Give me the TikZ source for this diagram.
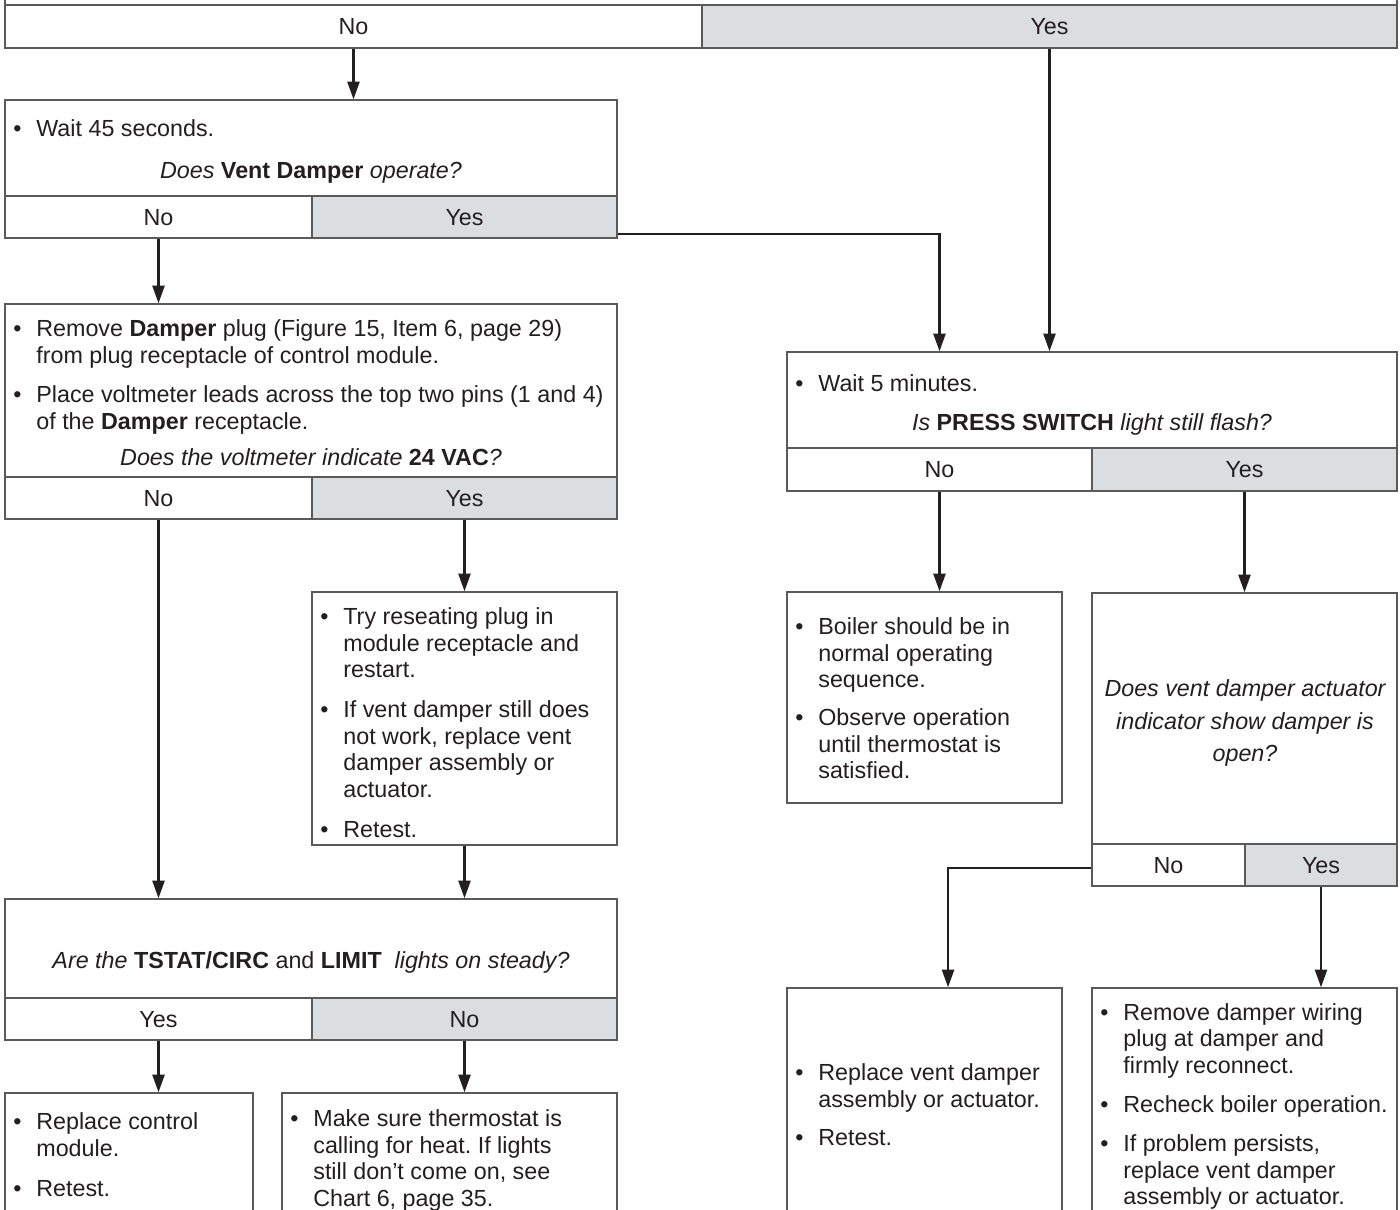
\documentclass[tikz,border=0pt]{standalone}
\usepackage{fontspec}
\setmainfont{Liberation Sans}
\usetikzlibrary{fit,arrows.meta,calc}
\definecolor{cellgray}{HTML}{DCDDDF}
\definecolor{edge}{HTML}{5A5A5A}
\definecolor{ink}{HTML}{231F20}
\newlength\bw \setlength\bw{13.1pt}
\newcommand\bl{\makebox[\bw][l]{\textbullet}}
\newcommand\ind{\hspace*{\bw}}
\frenchspacing
\tikzset{
  box/.style={draw=edge, line width=0.8pt, inner sep=0pt, fill=white},
  ybox/.style={box, fill=cellgray},
  txt/.style={inner sep=0pt, anchor=north west, text=ink, font=\fontsize{13.26}{15.07}\selectfont},
  qtxt/.style={inner sep=0pt, anchor=base, text=ink, font=\fontsize{13.26}{15.07}\selectfont},
  lbl/.style={qtxt},
  arr/.style={draw=ink, line width=1.3pt, -{Triangle[length=10pt,width=6.8pt]}},
}
\begin{document}
\begin{tikzpicture}[x=0.02cm,y=-0.02cm]
\clip (0,0) rectangle (1400,1210);
\fill[white] (0,0) rectangle (1400,1210);

% top bar
\draw[draw=edge, line width=0.8pt] (5,-5) -- (5,5) (1397,-5) -- (1397,5);
\node[box, fit={(5,5)(702,48)}] (tno) {};
\node[ybox, fit={(702,5)(1397,48)}] (tyes) {};
\node[lbl] (ltno) at ([yshift=-4.7pt]tno.center) {No};
\node[lbl] (ltyes) at ([yshift=-4.7pt]tyes.center) {Yes};

% box 1
\node[box, fit={(5,100)(617,196)}] (b1) {};
\node[box, fit={(5,196)(312,238)}] (b1no) {};
\node[ybox, fit={(312,196)(617,238)}] (b1yes) {};
\node[lbl] (lb1no) at ([yshift=-4.7pt]b1no.center) {No};
\node[lbl] (lb1yes) at ([yshift=-4.7pt]b1yes.center) {Yes};
\node[txt] (t1) at (13,118) {\begin{tabular}{@{}l@{}}\bl Wait 45 seconds.\end{tabular}};
\node[qtxt] (q1) at (311,178.3) {{\itshape Does} \textbf{Vent Damper} {\itshape operate?}};

% box 2
\node[box, fit={(5,304)(617,477)}] (b2) {};
\node[box, fit={(5,477)(312,519)}] (b2no) {};
\node[ybox, fit={(312,477)(617,519)}] (b2yes) {};
\node[lbl] (lb2no) at ([yshift=-4.7pt]b2no.center) {No};
\node[lbl] (lb2yes) at ([yshift=-4.7pt]b2yes.center) {Yes};
\node[txt] (t2) at (13,317.8) {\begin{tabular}{@{}l@{}}
\bl Remove \textbf{Damper} plug (Figure 15, Item 6, page 29)\\
\ind from plug receptacle of control module.\\[7.4pt]
\bl Place voltmeter leads across the top two pins (1 and 4)\\
\ind of the \textbf{Damper} receptacle.
\end{tabular}};
\node[qtxt] (q2) at (311,465.3) {{\itshape Does the voltmeter indicate} \textbf{24 VAC}{\itshape ?}};

% box try
\node[box, fit={(312,592)(617,845)}] (bt) {};
\node[txt] (tt) at (320,605.8) {\begin{tabular}{@{}l@{}}
\bl Try reseating plug in\\
\ind module receptacle and\\
\ind restart.\\[7.7pt]
\bl If vent damper still does\\
\ind not work, replace vent\\
\ind damper assembly or\\
\ind actuator.\\[7.7pt]
\bl Retest.
\end{tabular}};

% box 3
\node[box, fit={(787,352)(1397,448)}] (b3) {};
\node[box, fit={(787,448)(1092,491)}] (b3no) {};
\node[ybox, fit={(1092,448)(1397,491)}] (b3yes) {};
\node[lbl] (lb3no) at ([yshift=-4.7pt]b3no.center) {No};
\node[lbl] (lb3yes) at ([yshift=-4.7pt]b3yes.center) {Yes};
\node[txt] (t3) at (795,372.8) {\begin{tabular}{@{}l@{}}\bl Wait 5 minutes.\end{tabular}};
\node[qtxt] (q3) at (1092,430.3) {{\itshape Is} \textbf{PRESS SWITCH} {\itshape light still flash?}};

% box 4
\node[box, fit={(5,899)(617,998)}] (b4) {};
\node[box, fit={(5,998)(312,1040)}] (b4yes) {};
\node[ybox, fit={(312,998)(617,1040)}] (b4no) {};
\node[lbl] (lb4yes) at ([yshift=-4.7pt]b4yes.center) {Yes};
\node[lbl] (lb4no) at ([yshift=-4.7pt]b4no.center) {No};
\node[qtxt] (q4) at (311,968) {{\itshape Are the} \textbf{TSTAT/CIRC} and \textbf{LIMIT}\ \ {\itshape lights on steady?}};

% box 5, 6
\node[box, fit={(5,1093)(253,1225)}] (b5) {};
\node[txt] (t5) at (13,1110.8) {\begin{tabular}{@{}l@{}}
\bl Replace control\\
\ind module.\\[7.7pt]
\bl Retest.
\end{tabular}};
\node[box, fit={(282,1093)(617,1225)}] (b6) {};
\node[txt] (t6) at (290,1107.8) {\begin{tabular}{@{}l@{}}
\bl Make sure thermostat is\\
\ind calling for heat. If lights\\
\ind still don’t come on, see\\
\ind Chart 6, page 35.
\end{tabular}};

% box 7
\node[box, fit={(787,592)(1062,803)}] (b7) {};
\node[txt] (t7) at (795,616) {\begin{tabular}{@{}l@{}}
\bl Boiler should be in\\
\ind normal operating\\
\ind sequence.\\[6.5pt]
\bl Observe operation\\
\ind until thermostat is\\
\ind satisfied.
\end{tabular}};

% box 8
\node[box, fit={(1092,593)(1397,844)}] (b8) {};
\node[box, fit={(1092,844)(1245,886)}] (b8no) {};
\node[ybox, fit={(1245,844)(1397,886)}] (b8yes) {};
\node[lbl] (lb8no) at ([yshift=-4.7pt]b8no.center) {No};
\node[lbl] (lb8yes) at ([yshift=-4.7pt]b8yes.center) {Yes};
\node[inner sep=0pt, anchor=north, text=ink, font=\fontsize{13.26}{18.5}\selectfont] (q8) at (1245,673.5)
  {\itshape\begin{tabular}{@{}c@{}}Does vent damper actuator\\ indicator show damper is\\ open?\end{tabular}};

% box 9, 10
\node[box, fit={(787,988)(1062,1225)}] (b9) {};
\node[txt] (t9) at (795,1062) {\begin{tabular}{@{}l@{}}
\bl Replace vent damper\\
\ind assembly or actuator.\\[6.5pt]
\bl Retest.
\end{tabular}};
\node[box, fit={(1092,988)(1397,1225)}] (b10) {};
\node[txt] (t10) at (1100,1001.5) {\begin{tabular}{@{}l@{}}
\bl Remove damper wiring\\
\ind plug at damper and\\
\ind firmly reconnect.\\[7.2pt]
\bl Recheck boiler operation.\\[7.2pt]
\bl If problem persists,\\
\ind replace vent damper\\
\ind assembly or actuator.
\end{tabular}};

% connectors
\draw[arr] (tno.south) -- (tno.south |- b1.north);
\draw[arr] (tyes.south) -- (tyes.south |- b3.north);
\draw[arr] (b1no.south) -- (b1no.south |- b2.north);
\draw[arr] ([yshift=2.8pt]b1yes.south east) -| (b3no.north |- b3.north);
\draw[arr] (b2no.south) -- (b2no.south |- b4.north);
\draw[arr] (b2yes.south) -- (b2yes.south |- bt.north);
\draw[arr] (bt.south) -- (bt.south |- b4.north);
\draw[arr] (b4yes.south) -- (b4yes.south |- b5.north);
\draw[arr] (b4no.south) -- (b4no.south |- b6.north);
\draw[arr] (b3no.south) -- (b3no.south |- b7.north);
\draw[arr] (b3yes.south) -- (b3yes.south |- b8.north);
\draw[arr] ([yshift=-1.5pt]b8no.west) -| ([xshift=13.4pt]b9.north);
\draw[arr] (b8yes.south) -- (b8yes.south |- b10.north);
\end{tikzpicture}
\end{document}
